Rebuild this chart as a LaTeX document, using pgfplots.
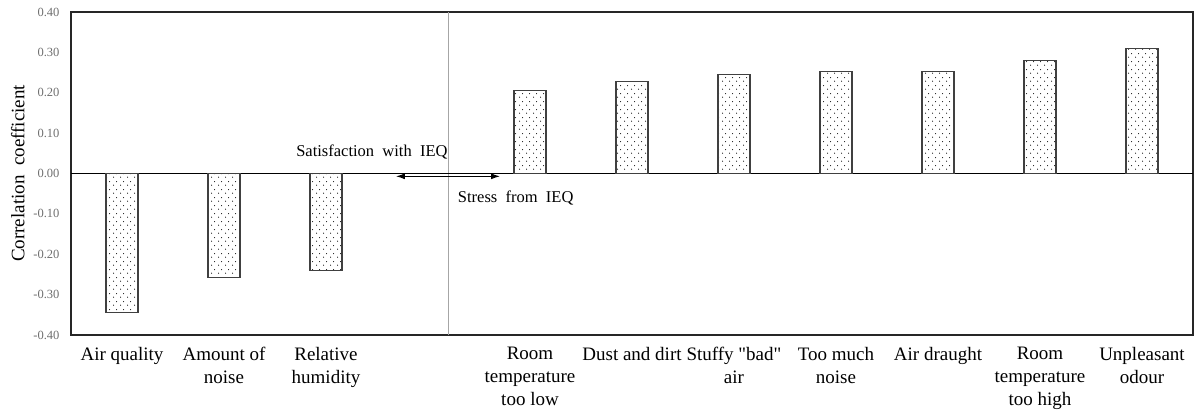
\documentclass[border=0pt]{standalone}
\usepackage{pgfplots}
\pgfplotsset{compat=1.18}
\usepackage{fontspec}
\setmainfont{Liberation Serif}
\newfontfamily\plainquote{Liberation Serif}
\usetikzlibrary{patterns.meta,arrows.meta}
\tikzdeclarepattern{
  name=sparsedots,
  type=uncolored,
  bottom left={(0pt,0pt)},
  top right={(7pt,8pt)},
  tile size={(7pt,8pt)},
  code={
    \fill (1.75pt,2pt) circle (0.6pt);
    \fill (5.25pt,6pt) circle (0.6pt);
  }
}
\definecolor{ticklab}{RGB}{110,110,110}
\begin{document}
\begin{tikzpicture}
\begin{axis}[
  name=ax,
  at={(71pt,76pt)}, anchor=south west,
  scale only axis,
  width=1122pt, height=323pt,
  xmin=-0.5, xmax=10.5,
  ymin=-0.4, ymax=0.4,
  axis line style={line width=1.2pt, black!85},
  ytick={-0.4,-0.3,...,0.4},
  yticklabel style={font=\fontsize{12.5}{14}\selectfont, text=ticklab, xshift=-8pt, /pgf/number format/fixed, /pgf/number format/fixed zerofill, /pgf/number format/precision=2, /pgf/number format/assume math mode=true},
  major tick length=0pt,
  xtick={0,1,2,4,5,6,7,8,9,10},
  xticklabels={Air quality, Amount of\\noise, Relative\\humidity, Room\\temperature\\too low, Dust and dirt, Stuffy {\plainquote"}bad{\plainquote"}\\air, Too much\\noise, Air draught, Room\\temperature\\too high, Unpleasant\\odour},
  xticklabel style={font=\fontsize{19}{23}\selectfont, align=center, anchor=north, yshift=-9pt},
  ylabel={Correlation\ \ coefficient},
  ylabel style={font=\fontsize{19}{22}\selectfont},
  every axis y label/.append style={at={(ticklabel cs:0.5)}, anchor=south, yshift=2pt},
  clip=false,
]
\draw[gray!70, line width=0.8pt] (axis cs:3.196,-0.4) -- (axis cs:3.196,0.4);
\draw[black, line width=1pt] (axis cs:-0.5,0) -- (axis cs:10.5,0);
\addplot[ybar, bar width=32pt, draw=black!75, line width=1.1pt, pattern={sparsedots}, pattern color=black]
  coordinates {(0,-0.344) (1,-0.257) (2,-0.240) (4,0.205) (5,0.228) (6,0.245) (7,0.252) (8,0.252) (9,0.280) (10,0.309)};
\draw[{Latex[length=9pt,width=6pt]}-{Latex[length=9pt,width=6pt]}, line width=1pt] (axis cs:2.686,-0.007) -- (axis cs:3.706,-0.007);
\node[font=\fontsize{16.5}{18}\selectfont] at (axis cs:2.45,0.054) {Satisfaction\ \ with\ \ IEQ};
\node[font=\fontsize{16.5}{18}\selectfont] at (axis cs:3.86,-0.062) {Stress\ \ from\ \ IEQ};
\end{axis}
\pgfresetboundingbox
\path (0pt,0pt) rectangle (1197pt,411pt);
\end{tikzpicture}
\end{document}
